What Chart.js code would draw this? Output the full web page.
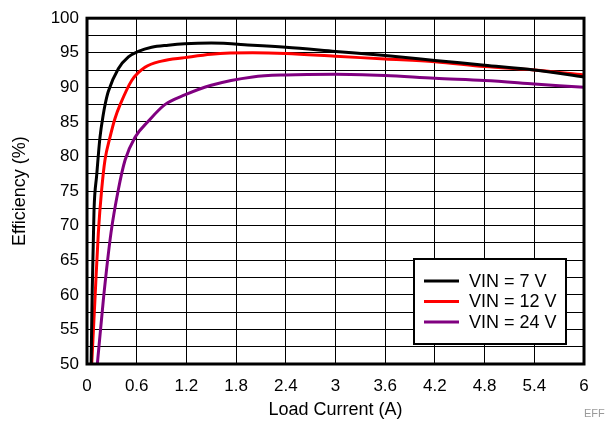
<!DOCTYPE html>
<html>
<head>
<meta charset="utf-8">
<script src="https://cdn.jsdelivr.net/npm/chart.js@4.4.1/dist/chart.umd.min.js"></script>
<style>
  html, body { margin: 0; padding: 0; background: #fff; }
  #wrap { position: relative; width: 616px; height: 421px; }
</style>
</head>
<body>
<div id="wrap"><canvas id="effChart" width="616" height="421"></canvas></div>
<script>
// load current (A) and efficiency (%)
var current7 = [0.05, 0.062, 0.075, 0.085, 0.117, 0.157, 0.197, 0.22, 0.257, 0.378, 0.5, 0.62, 0.78, 0.98, 1.18, 1.5, 2.0, 2.4, 3.0, 3.6, 4.2, 4.8, 5.4, 6.0];
var eff7     = [50, 60, 67, 72.3, 77.3, 82.8, 86.1, 87.6, 89.4, 92.7, 94.4, 95.2, 95.8, 96.1, 96.3, 96.4, 96.1, 95.8, 95.2, 94.6, 93.9, 93.2, 92.5, 91.5];

var current12 = [0.057, 0.097, 0.137, 0.177, 0.217, 0.278, 0.338, 0.4, 0.54, 0.7, 0.9, 1.18, 1.5, 2.0, 2.4, 3.0, 3.6, 4.2, 4.8, 5.4, 6.0];
var eff12     = [50, 59.6, 69, 75.2, 79.5, 82.8, 85.5, 87.5, 91.0, 92.9, 93.8, 94.3, 94.8, 95.0, 94.9, 94.5, 94.1, 93.7, 93.0, 92.5, 91.8];

var current24 = [0.125, 0.2, 0.29, 0.378, 0.46, 0.58, 0.74, 0.94, 1.18, 1.5, 2.0, 2.4, 3.0, 3.6, 4.2, 4.8, 5.4, 6.0];
var eff24     = [50, 59.6, 69, 75.2, 79.5, 82.8, 85.1, 87.5, 88.9, 90.3, 91.5, 91.8, 91.9, 91.7, 91.3, 91.0, 90.5, 90.0];

var seriesLabels = ["VIN = 7 V", "VIN = 12 V", "VIN = 24 V"];
var seriesColors = ["#000000", "#ff0000", "#800080"];

var FONT = "'Liberation Sans', Arial, Helvetica, sans-serif";

function toPoints(xs, ys) {
  var pts = [];
  for (var i = 0; i < xs.length; i++) pts.push({ x: xs[i], y: ys[i] });
  return pts;
}

// frame around plot area + legend box inside the plot
var framePlugin = {
  id: "frame",
  afterDatasetsDraw: function(chart) {
    var ctx = chart.ctx, a = chart.chartArea;
    ctx.save();
    ctx.strokeStyle = "#000";
    ctx.lineWidth = 3;
    ctx.strokeRect(a.left, a.top, a.right - a.left, a.bottom - a.top);

    // legend
    var bx = 414, by = 259, bw = 152, bh = 85;
    ctx.fillStyle = "#fff";
    ctx.fillRect(bx, by, bw, bh);
    ctx.lineWidth = 2;
    ctx.strokeRect(bx, by, bw, bh);
    ctx.font = "18px " + FONT;
    ctx.textBaseline = "middle";
    chart.data.datasets.forEach(function(ds, i) {
      var yy = by + 22 + i * 20.5;
      ctx.strokeStyle = ds.borderColor;
      ctx.lineWidth = 3;
      ctx.beginPath();
      ctx.moveTo(424, yy);
      ctx.lineTo(459, yy);
      ctx.stroke();
      ctx.fillStyle = "#000";
      ctx.fillText(ds.label, 469, yy + 1);
    });

    // small figure tag
    ctx.font = "11px " + FONT;
    ctx.fillStyle = "#9a9a9a";
    ctx.textBaseline = "alphabetic";
    ctx.fillText("EFF", 584, 417);
    ctx.restore();
  }
};

new Chart(document.getElementById("effChart"), {
  type: "line",
  data: {
    datasets: [
      { label: seriesLabels[0], data: toPoints(current7, eff7), borderColor: seriesColors[0] },
      { label: seriesLabels[1], data: toPoints(current12, eff12), borderColor: seriesColors[1] },
      { label: seriesLabels[2], data: toPoints(current24, eff24), borderColor: seriesColors[2] }
    ]
  },
  options: {
    responsive: false,
    animation: false,
    layout: { padding: { top: 12, right: 32, left: 0, bottom: 0 } },
    elements: {
      line: { borderWidth: 3, cubicInterpolationMode: "monotone" },
      point: { radius: 0 }
    },
    plugins: { legend: { display: false }, tooltip: { enabled: false } },
    scales: {
      x: {
        type: "linear",
        min: 0,
        max: 6,
        grid: { color: "#000", lineWidth: 1, drawTicks: false },
        border: { display: false },
        ticks: {
          stepSize: 0.6,
          autoSkip: false,
          maxRotation: 0,
          padding: 12,
          color: "#000",
          font: { family: FONT, size: 17 },
          callback: function(v) { return String(Number(v.toFixed(1))); }
        },
        title: { display: true, text: "Load Current (A)", color: "#000", font: { family: FONT, size: 18 }, padding: { top: 0, bottom: 0 } },
        afterFit: function(s) { s.height = 57; }
      },
      y: {
        min: 50,
        max: 100,
        grid: { color: "#000", lineWidth: 1, drawTicks: false },
        border: { display: false },
        ticks: {
          stepSize: 2.5,
          autoSkip: false,
          padding: 8,
          color: "#000",
          font: { family: FONT, size: 17 },
          // minor lines every 2.5 %, labels only every 5 %
          callback: function(v) { return v % 5 === 0 ? String(v) : ""; }
        },
        title: { display: true, text: "Efficiency (%)", color: "#000", font: { family: FONT, size: 18 }, padding: { top: 9, bottom: 0 } },
        afterFit: function(s) { s.width = 87; }
      }
    }
  },
  plugins: [framePlugin]
});
</script>
</body>
</html>
